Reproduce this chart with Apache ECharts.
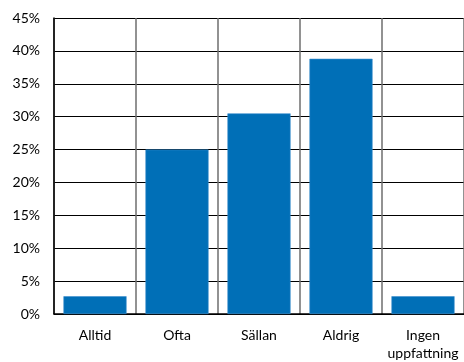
<!DOCTYPE html>
<html>
<head>
<meta charset="utf-8">
<script src="https://cdn.jsdelivr.net/npm/echarts@6/dist/echarts.min.js"></script>
<style>
  html, body { margin: 0; padding: 0; background: #fff; }
  #chart { width: 464px; height: 362px; }
</style>
</head>
<body>
<div id="chart"></div>
<script>
// Answer categories and share of respondents (%)
const categories = ['Alltid', 'Ofta', 'Sällan', 'Aldrig', 'Ingen\nuppfattning'];
const shares = [2.7, 25.0, 30.5, 38.8, 2.7];
const yTicks = { min: 0, max: 45, step: 5 };

const chart = echarts.init(document.getElementById('chart'), null, { renderer: 'canvas' });
const font = 'Lato, "Noto Sans", sans-serif';

chart.setOption({
  animation: false,
  grid: { left: 54, right: 0, top: 18, bottom: 47, containLabel: false },
  xAxis: {
    type: 'category',
    data: categories,
    axisLine: { show: true, lineStyle: { color: '#000', width: 1.5 } },
    axisTick: { show: false },
    splitLine: { show: true, lineStyle: { color: '#6e6e6e', width: 1.5 } },
    axisLabel: {
      color: '#000', fontFamily: font, fontSize: 14, margin: 12, lineHeight: 18,
      interval: 0
    }
  },
  yAxis: {
    type: 'value',
    min: yTicks.min, max: yTicks.max, interval: yTicks.step,
    axisLine: { show: true, lineStyle: { color: '#000', width: 1.5 } },
    axisTick: { show: false },
    splitLine: { show: true, lineStyle: { color: '#000', width: 1.2 } },
    axisLabel: {
      color: '#000', fontFamily: font, fontSize: 14, margin: 14,
      formatter: v => v + '%'
    }
  },
  series: [{
    type: 'bar',
    data: shares,
    barCategoryGap: '23%',
    itemStyle: { color: '#006FB7', borderColor: '#3d8fcc', borderWidth: 0.6 }
  }]
});
</script>
</body>
</html>
